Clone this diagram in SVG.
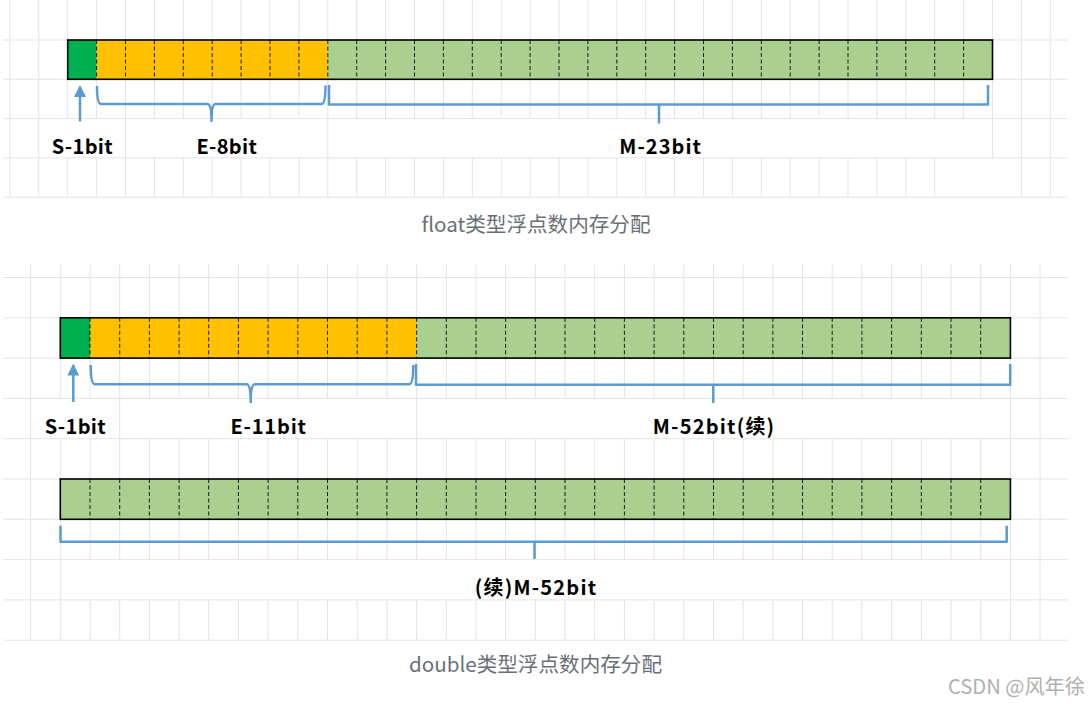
<svg xmlns="http://www.w3.org/2000/svg" width="1089" height="703" viewBox="0 0 1089 703">
<style>
.grid{fill:none;stroke:#e4e4e4;stroke-width:1}
.outline{fill:none;stroke:#000;stroke-width:1.6}
.div{fill:none;stroke:#1a1a1a;stroke-width:1;stroke-dasharray:4 2.5}
.br{fill:none;stroke:#5b9bd5;stroke-width:2.5;stroke-linejoin:round}
.lbl{font-family:"Noto Sans CJK SC","Noto Sans",sans-serif;font-weight:bold;font-size:20px;fill:#000;text-anchor:middle}
.cap{font-family:"Noto Sans CJK SC","Noto Sans",sans-serif;font-size:20.6px;fill:#6a7079;text-anchor:middle}
.wm{font-family:"Noto Sans CJK SC","Noto Sans",sans-serif;font-size:20.2px;fill:#b0b0b0;text-anchor:end}
.s{fill:#00b050}.e{fill:#ffc000}.m{fill:#a9d08e}
</style>
<defs>
<marker id="ah" viewBox="0 0 12 12" refX="10" refY="6" markerWidth="12" markerHeight="12" markerUnits="userSpaceOnUse" orient="auto">
<path d="M0,0 L12,6 L0,12 z" fill="#5b9bd5"/>
</marker>
</defs>
<rect width="1089" height="703" fill="#fff"/>
<g id="grid-float">
<path class="grid" d="M3 40H1068M3 79.3H1068M3 118.6H1068M3 157.9H1068M3 197.2H1068
M9.9 0V197.2M38.8 0V197.2M125.5 0V197.2M327.8 0V197.2M1021.4 0V197.2M1050.3 0V197.2M992.5 0V157.9M963.6 0V118.6
M67.7 0V118.6M67.7 157.9V197.2M96.6 0V118.6M96.6 157.9V197.2M154.4 0V118.6M154.4 157.9V197.2M183.3 0V118.6M183.3 157.9V197.2
M212.2 0V118.6M212.2 157.9V197.2M241.1 0V118.6M241.1 157.9V197.2M270 0V118.6M270 157.9V197.2M298.9 0V118.6M298.9 157.9V197.2
M356.7 0V118.6M356.7 157.9V197.2M385.6 0V118.6M385.6 157.9V197.2M414.5 0V118.6M414.5 157.9V197.2M443.4 0V118.6M443.4 157.9V197.2
M472.3 0V118.6M472.3 157.9V197.2M501.2 0V118.6M501.2 157.9V197.2M530.1 0V118.6M530.1 157.9V197.2M559 0V118.6M559 157.9V197.2
M587.9 0V118.6M587.9 157.9V197.2M616.8 0V118.6M616.8 157.9V197.2M645.7 0V118.6M645.7 157.9V197.2M674.6 0V118.6M674.6 157.9V197.2
M703.5 0V118.6M703.5 157.9V197.2M732.4 0V118.6M732.4 157.9V197.2M761.3 0V118.6M761.3 157.9V197.2M790.2 0V118.6M790.2 157.9V197.2
M819.1 0V118.6M819.1 157.9V197.2M848 0V118.6M848 157.9V197.2M876.9 0V118.6M876.9 157.9V197.2M905.8 0V118.6M905.8 157.9V197.2
M934.7 0V118.6M934.7 157.9V197.2"/>
</g>
<g id="grid-double">
<path class="grid" d="M3 277.5H1068M3 317.8H1068M3 358.1H1068M3 398.4H1068M3 438.7H1068M3 479H1068M3 519.3H1068M3 559.6H1068M3 599.9H1068M3 640.2H1068
M30.6 264V640.2M1010.4 264V640.2M1040.1 264V640.2
M60.3 264V398.4M60.3 438.7V640.2
M119.7 264V559.6M119.7 599.9V640.2M416.6 264V559.6M416.6 599.9V640.2
M90 264V398.4M90 438.7V559.6M90 599.9V640.2
M149.4 264V398.4M149.4 438.7V559.6M149.4 599.9V640.2
M179.1 264V398.4M179.1 438.7V559.6M179.1 599.9V640.2
M208.7 264V398.4M208.7 438.7V559.6M208.7 599.9V640.2
M238.4 264V398.4M238.4 438.7V559.6M238.4 599.9V640.2
M268.1 264V398.4M268.1 438.7V559.6M268.1 599.9V640.2
M297.8 264V398.4M297.8 438.7V559.6M297.8 599.9V640.2
M327.5 264V398.4M327.5 438.7V559.6M327.5 599.9V640.2
M357.2 264V398.4M357.2 438.7V559.6M357.2 599.9V640.2
M386.9 264V398.4M386.9 438.7V559.6M386.9 599.9V640.2
M446.3 264V398.4M446.3 438.7V559.6M446.3 599.9V640.2
M476 264V398.4M476 438.7V559.6M476 599.9V640.2
M505.6 264V398.4M505.6 438.7V559.6M505.6 599.9V640.2
M535.3 264V398.4M535.3 438.7V559.6M535.3 599.9V640.2
M565 264V398.4M565 438.7V559.6M565 599.9V640.2
M594.7 264V398.4M594.7 438.7V559.6M594.7 599.9V640.2
M624.4 264V398.4M624.4 438.7V559.6M624.4 599.9V640.2
M654.1 264V398.4M654.1 438.7V559.6M654.1 599.9V640.2
M683.8 264V398.4M683.8 438.7V559.6M683.8 599.9V640.2
M713.5 264V398.4M713.5 438.7V559.6M713.5 599.9V640.2
M743.2 264V398.4M743.2 438.7V559.6M743.2 599.9V640.2
M772.9 264V398.4M772.9 438.7V559.6M772.9 599.9V640.2
M802.5 264V398.4M802.5 438.7V559.6M802.5 599.9V640.2
M832.2 264V398.4M832.2 438.7V559.6M832.2 599.9V640.2
M861.9 264V398.4M861.9 438.7V559.6M861.9 599.9V640.2
M891.6 264V398.4M891.6 438.7V559.6M891.6 599.9V640.2
M921.3 264V398.4M921.3 438.7V559.6M921.3 599.9V640.2
M951 264V398.4M951 438.7V559.6M951 599.9V640.2
M980.7 264V398.4M980.7 438.7V559.6M980.7 599.9V640.2"/>
</g>
<g id="float-bar">
<rect class="s" x="67.7" y="40" width="28.9" height="39.3"/>
<rect class="e" x="96.6" y="40" width="231.2" height="39.3"/>
<rect class="m" x="327.8" y="40" width="664.7" height="39.3"/>
<path class="div" d="M96.6 40V79.3M125.5 40V79.3M154.4 40V79.3M183.3 40V79.3M212.2 40V79.3M241.1 40V79.3M270 40V79.3M298.9 40V79.3M327.8 40V79.3M356.7 40V79.3M385.6 40V79.3M414.5 40V79.3M443.4 40V79.3M472.3 40V79.3M501.2 40V79.3M530.1 40V79.3M559 40V79.3M587.9 40V79.3M616.8 40V79.3M645.7 40V79.3M674.6 40V79.3M703.5 40V79.3M732.4 40V79.3M761.3 40V79.3M790.2 40V79.3M819.1 40V79.3M848 40V79.3M876.9 40V79.3M905.8 40V79.3M934.7 40V79.3M963.6 40V79.3"/>
<rect class="outline" x="67.7" y="40" width="924.8" height="39.3"/>
</g>
<g id="double-bar-1">
<rect class="s" x="60.3" y="317.8" width="29.7" height="40.3"/>
<rect class="e" x="90" y="317.8" width="326.6" height="40.3"/>
<rect class="m" x="416.6" y="317.8" width="593.8" height="40.3"/>
<path class="div" d="M90 317.8V358.1M119.7 317.8V358.1M149.4 317.8V358.1M179.1 317.8V358.1M208.7 317.8V358.1M238.4 317.8V358.1M268.1 317.8V358.1M297.8 317.8V358.1M327.5 317.8V358.1M357.2 317.8V358.1M386.9 317.8V358.1M416.6 317.8V358.1M446.3 317.8V358.1M476 317.8V358.1M505.6 317.8V358.1M535.3 317.8V358.1M565 317.8V358.1M594.7 317.8V358.1M624.4 317.8V358.1M654.1 317.8V358.1M683.8 317.8V358.1M713.5 317.8V358.1M743.2 317.8V358.1M772.9 317.8V358.1M802.5 317.8V358.1M832.2 317.8V358.1M861.9 317.8V358.1M891.6 317.8V358.1M921.3 317.8V358.1M951 317.8V358.1M980.7 317.8V358.1"/>
<rect class="outline" x="60.3" y="317.8" width="950.1" height="40.3"/>
</g>
<g id="double-bar-2">
<rect class="m" x="60.3" y="479" width="950.1" height="40.3"/>
<path class="div" d="M90 479V519.3M119.7 479V519.3M149.4 479V519.3M179.1 479V519.3M208.7 479V519.3M238.4 479V519.3M268.1 479V519.3M297.8 479V519.3M327.5 479V519.3M357.2 479V519.3M386.9 479V519.3M416.6 479V519.3M446.3 479V519.3M476 479V519.3M505.6 479V519.3M535.3 479V519.3M565 479V519.3M594.7 479V519.3M624.4 479V519.3M654.1 479V519.3M683.8 479V519.3M713.5 479V519.3M743.2 479V519.3M772.9 479V519.3M802.5 479V519.3M832.2 479V519.3M861.9 479V519.3M891.6 479V519.3M921.3 479V519.3M951 479V519.3M980.7 479V519.3"/>
<rect class="outline" x="60.3" y="479" width="950.1" height="40.3"/>
</g>
<g id="connectors">
<line class="br" x1="80" y1="121.5" x2="80" y2="87" marker-end="url(#ah)"/>
<path class="br" d="M97 86Q97 104 101 104L207.5 104Q211.5 104 211.5 121Q211.5 104 215.5 104L321.5 104Q325.5 104 325.5 85.5"/>
<path class="br" d="M329 85V104.5H988V85M659 104.5V123.5"/>
<line class="br" x1="73.3" y1="402" x2="73.3" y2="365.5" marker-end="url(#ah)"/>
<path class="br" d="M90.7 365Q90.7 384.3 95 384.3L246.5 384.3Q250.7 384.3 250.7 402Q250.7 384.3 255 384.3L409 384.3Q413.3 384.3 413.3 365"/>
<path class="br" d="M416 364V384.7H1010.2V364M713.3 384.7V403"/>
<path class="br" d="M60.5 525.7V541.7H1006.7V525.7M534.5 541.7V559"/>
</g>
<g id="labels">
<text class="lbl" x="82.3" y="153.5" letter-spacing="0.3">S-1bit</text>
<text class="lbl" x="226.8" y="153.5" letter-spacing="0.3">E-8bit</text>
<text class="lbl" x="660.7" y="153.5" letter-spacing="1.05">M-23bit</text>
<text class="lbl" x="75.3" y="433.5" letter-spacing="0.3">S-1bit</text>
<text class="lbl" x="268.6" y="433.5" letter-spacing="0.8">E-11bit</text>
<text class="lbl" x="714.1" y="433.5" letter-spacing="1.2">M-52bit(续)</text>
<text class="lbl" x="536" y="594.5" letter-spacing="1.2">(续)M-52bit</text>
</g>
<g id="captions">
<text class="cap" x="536" y="232">float类型浮点数内存分配</text>
<text class="cap" x="535.5" y="672">double类型浮点数内存分配</text>
<text class="wm" x="1085" y="694">CSDN @风年徐</text>
</g>
</svg>
